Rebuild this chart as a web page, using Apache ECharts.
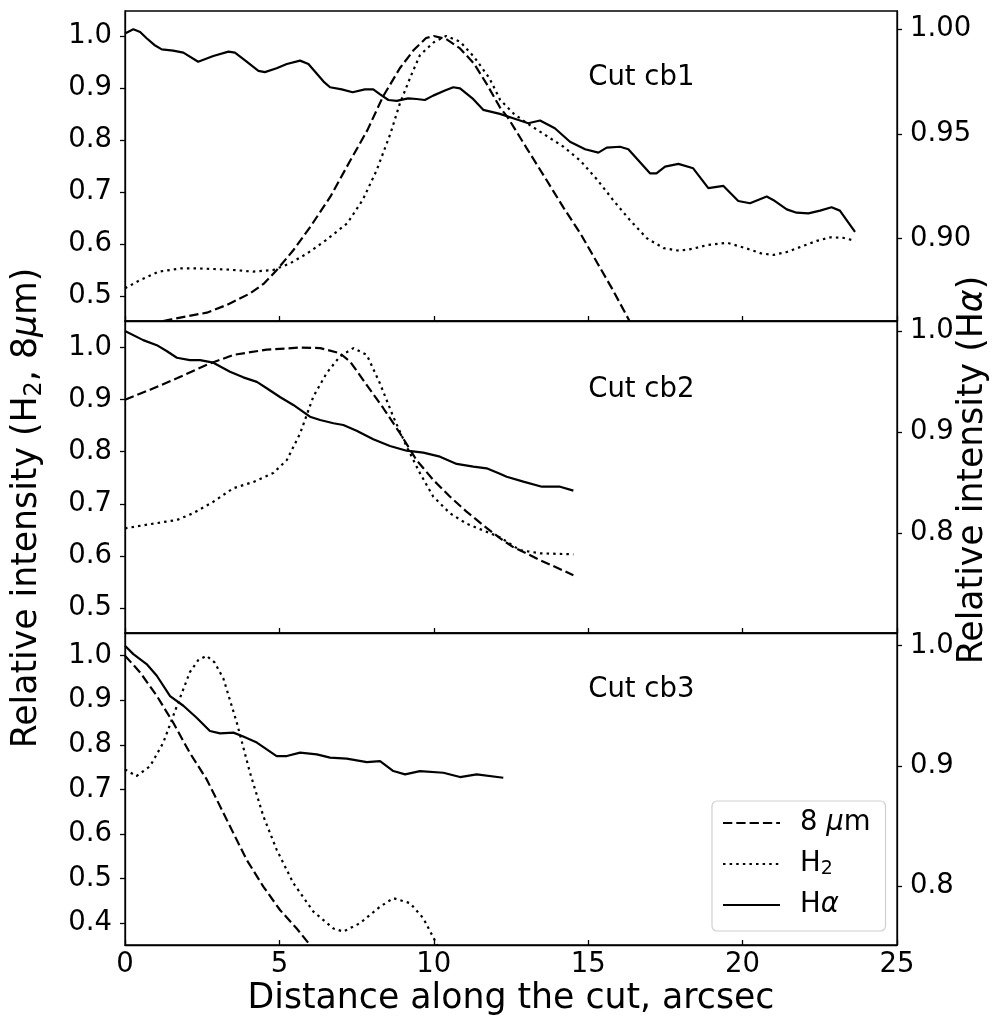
<!DOCTYPE html>
<html>
<head>
<meta charset="utf-8">
<script src="https://cdn.jsdelivr.net/npm/echarts@6/dist/echarts.min.js"></script>
<style>
html,body{margin:0;padding:0;background:#fff;}
#chart{width:994px;height:1017px;}
</style>
</head>
<body>
<div id="chart"></div>
<script>
// ---------- DATA ----------
// Cut cb1
const cb1_x_8um = [0, 0.5, 1.0, 1.5, 2.0, 2.65, 3.3, 4.05, 4.5, 4.9, 5.45, 6.0, 6.65, 7.3, 7.85, 8.35, 8.9, 9.35, 9.75, 10.0, 10.4, 10.85, 11.3, 11.7, 12.15, 12.4, 13.0, 13.65, 14.2, 14.75, 15.3, 15.8, 16.35, 16.8];
const cb1_y_8um = [0.43, 0.44, 0.449, 0.455, 0.461, 0.468, 0.483, 0.505, 0.524, 0.549, 0.588, 0.633, 0.691, 0.761, 0.819, 0.883, 0.938, 0.973, 0.996, 1.0, 0.994, 0.976, 0.947, 0.909, 0.862, 0.843, 0.785, 0.723, 0.67, 0.62, 0.563, 0.5115, 0.4506, 0.40];
const cb1_x_h2 = [0, 0.5, 1.1, 1.8, 2.4, 3.3, 4.15, 4.8, 5.35, 5.9, 6.5, 7.2, 7.7, 8.15, 8.6, 8.9, 9.25, 9.55, 10.0, 10.4, 10.85, 11.3, 11.8, 12.15, 12.6, 13.1, 13.6, 14.2, 14.75, 15.3, 15.8, 16.35, 16.9, 17.45, 17.95, 18.4, 18.85, 19.5, 20.1, 20.6, 21.0, 21.45, 21.9, 22.4, 22.85, 23.25, 23.65];
const cb1_y_h2 = [0.515, 0.531, 0.547, 0.553, 0.553, 0.551, 0.547, 0.550, 0.563, 0.582, 0.607, 0.640, 0.685, 0.742, 0.813, 0.870, 0.922, 0.963, 0.988, 1.0, 0.989, 0.960, 0.919, 0.877, 0.850, 0.829, 0.810, 0.787, 0.760, 0.723, 0.685, 0.646, 0.611, 0.592, 0.587, 0.591, 0.598, 0.6025, 0.592, 0.582, 0.579, 0.585, 0.595, 0.606, 0.613, 0.612, 0.606];
const cb1_x_ha = [0, 0.27, 0.49, 0.70, 0.95, 1.19, 1.56, 1.89, 2.37, 2.86, 3.35, 3.56, 3.94, 4.32, 4.53, 4.91, 5.24, 5.67, 5.94, 6.43, 6.64, 7.02, 7.37, 7.77, 8.04, 8.25, 8.53, 8.80, 9.17, 9.44, 9.71, 9.98, 10.36, 10.63, 10.85, 11.28, 11.60, 12.14, 12.57, 13.06, 13.44, 13.92, 14.41, 14.90, 15.33, 15.60, 16.03, 16.30, 17.00, 17.21, 17.49, 17.92, 18.40, 18.89, 19.38, 19.86, 20.24, 20.78, 20.99, 21.43, 21.75, 22.13, 22.51, 22.88, 23.15, 23.64];
const cb1_y_ha = [0.998, 1.000, 0.9987, 0.9957, 0.9925, 0.9904, 0.9898, 0.9888, 0.9845, 0.9872, 0.9893, 0.9888, 0.9845, 0.9801, 0.9795, 0.9814, 0.9834, 0.9850, 0.9834, 0.9750, 0.9723, 0.9713, 0.9699, 0.9713, 0.9713, 0.9690, 0.9662, 0.9658, 0.9670, 0.9667, 0.9662, 0.9683, 0.9707, 0.9723, 0.9718, 0.9666, 0.9615, 0.9596, 0.9575, 0.9551, 0.9564, 0.9527, 0.9463, 0.9427, 0.9411, 0.9435, 0.9439, 0.9427, 0.9312, 0.9312, 0.9344, 0.9357, 0.9336, 0.9241, 0.9252, 0.9180, 0.9169, 0.9201, 0.9185, 0.9140, 0.9124, 0.9121, 0.9134, 0.9150, 0.9134, 0.9033];
// Cut cb2
const cb2_x_8um = [0, 0.81, 1.68, 2.65, 3.51, 4.59, 5.67, 6.32, 6.96, 7.29, 7.83, 8.36, 8.91, 9.44, 9.98, 10.52, 11.06, 11.60, 12.14, 12.57, 13.44, 14.52];
const cb2_y_8um = [0.900, 0.919, 0.941, 0.967, 0.986, 0.996, 1.000, 0.999, 0.989, 0.973, 0.928, 0.884, 0.835, 0.784, 0.746, 0.714, 0.685, 0.659, 0.634, 0.617, 0.592, 0.563];
const cb2_x_h2 = [0, 0.81, 1.68, 2.21, 2.86, 3.51, 4.16, 4.80, 5.24, 5.67, 6.10, 6.53, 6.96, 7.40, 7.83, 8.25, 8.69, 9.12, 9.55, 9.98, 10.52, 11.06, 11.60, 12.14, 12.79, 13.44, 14.52];
const cb2_y_h2 = [0.653, 0.661, 0.669, 0.682, 0.704, 0.730, 0.742, 0.759, 0.784, 0.835, 0.906, 0.951, 0.983, 0.999, 0.986, 0.932, 0.867, 0.810, 0.759, 0.714, 0.682, 0.662, 0.649, 0.636, 0.611, 0.605, 0.603];
const cb2_x_ha = [0, 0.59, 1.03, 1.36, 1.68, 2.10, 2.43, 2.86, 3.40, 3.83, 4.27, 4.59, 5.03, 5.45, 5.99, 6.32, 6.75, 7.07, 7.50, 8.04, 8.58, 9.12, 9.66, 10.20, 10.74, 11.28, 11.71, 12.14, 12.36, 12.90, 13.50, 14.09, 14.52];
const cb2_y_ha = [1.0, 0.991, 0.986, 0.980, 0.9736, 0.9713, 0.9713, 0.9687, 0.9598, 0.9542, 0.9497, 0.9434, 0.9345, 0.9269, 0.9153, 0.912, 0.9088, 0.9071, 0.9015, 0.893, 0.8864, 0.8817, 0.8798, 0.8758, 0.8686, 0.866, 0.8643, 0.859, 0.856, 0.8511, 0.8461, 0.8461, 0.8422];
// Cut cb3
const cb3_x_8um = [0, 0.49, 1.03, 1.56, 2.10, 2.65, 3.08, 3.51, 3.94, 4.48, 5.02, 5.56, 5.99, 6.2];
const cb3_y_8um = [1.0, 0.9625, 0.91, 0.85, 0.782, 0.722, 0.662, 0.602, 0.542, 0.482, 0.4295, 0.388, 0.351, 0.33];
const cb3_x_h2 = [0, 0.37, 0.81, 1.24, 1.68, 2.10, 2.37, 2.64, 2.90, 3.19, 3.62, 4.05, 4.48, 4.91, 5.45, 6.10, 6.75, 7.07, 7.61, 8.26, 8.69, 9.23, 9.66, 10.09, 10.3];
const cb3_y_h2 = [0.745, 0.730, 0.752, 0.805, 0.887, 0.963, 0.990, 1.0, 0.985, 0.948, 0.850, 0.737, 0.640, 0.565, 0.490, 0.426, 0.388, 0.381, 0.400, 0.437, 0.456, 0.445, 0.411, 0.354, 0.32];
const cb3_x_ha = [0, 0.27, 0.70, 1.03, 1.46, 1.89, 2.32, 2.75, 3.08, 3.51, 3.83, 4.27, 4.91, 5.24, 5.67, 6.21, 6.64, 7.18, 7.83, 8.26, 8.69, 9.07, 9.55, 10.31, 10.85, 11.39, 12.25];
const cb3_y_ha = [1.0, 0.993, 0.9847, 0.975, 0.958, 0.950, 0.940, 0.929, 0.927, 0.9276, 0.9243, 0.9193, 0.9081, 0.9081, 0.911, 0.9095, 0.9068, 0.9059, 0.9031, 0.9039, 0.8956, 0.8928, 0.8956, 0.8942, 0.8906, 0.8928, 0.890];

// Tick labels / axis ranges
const xTicks = [0, 5, 10, 15, 20, 25];
const leftTicks = [[0.5, 0.6, 0.7, 0.8, 0.9, 1.0], [0.5, 0.6, 0.7, 0.8, 0.9, 1.0], [0.4, 0.5, 0.6, 0.7, 0.8, 0.9, 1.0]];
const rightTicks = [[0.90, 0.95, 1.00], [0.8, 0.9, 1.0], [0.8, 0.9, 1.0]];
const rightDecimals = [2, 1, 1];
const leftRange = [[0.452, 1.048], [0.452, 1.051], [0.351, 1.051]];
const rightRange = [[0.8607, 1.0087], [0.7015, 1.0099], [0.7507, 1.0106]];
const cutLabels = ['Cut cb1', 'Cut cb2', 'Cut cb3'];
const cutLabelPos = [15, 0.9];
const seriesNames = ['8 μm', 'H₂', 'Hα'];

// ---------- BUILD ----------
const FONT = 'DejaVu Sans';
const zip = (xs, ys) => xs.map((x, i) => [x, ys[i]]);
const panels = [
  {d8: zip(cb1_x_8um, cb1_y_8um), h2: zip(cb1_x_h2, cb1_y_h2), ha: zip(cb1_x_ha, cb1_y_ha)},
  {d8: zip(cb2_x_8um, cb2_y_8um), h2: zip(cb2_x_h2, cb2_y_h2), ha: zip(cb2_x_ha, cb2_y_ha)},
  {d8: zip(cb3_x_8um, cb3_y_8um), h2: zip(cb3_x_h2, cb3_y_h2), ha: zip(cb3_x_ha, cb3_y_ha)}
];
const tops = [11, 321, 633];
const heights = [310, 312, 312];
const TICKFS = 27.5;
const LABFS = 34.7;

const grid = [], xAxis = [], yAxis = [], series = [];
for (let i = 0; i < 3; i++) {
  grid.push({left: 125, right: 97, top: tops[i], height: heights[i], show: true,
    borderColor: '#000', borderWidth: 1.3, backgroundColor: 'transparent'});
  xAxis.push({
    type: 'value', gridIndex: i, min: 0, max: 25, interval: 5,
    axisLine: {show: true, onZero: false, lineStyle: {color: '#000', width: 1.3}},
    axisTick: {show: true, inside: true, length: 5, lineStyle: {color: '#000', width: 1.3}},
    axisLabel: {show: i === 2, margin: 6, color: '#000', fontFamily: FONT, fontSize: TICKFS},
    splitLine: {show: false},
    name: i === 2 ? 'Distance along the cut, arcsec' : '',
    nameLocation: 'middle', nameGap: 36,
    nameTextStyle: {color: '#000', fontFamily: FONT, fontSize: LABFS}
  });
  yAxis.push({
    type: 'value', gridIndex: i, position: 'left', min: leftRange[i][0], max: leftRange[i][1],
    axisLine: {show: true, onZero: false, lineStyle: {color: '#000', width: 1.3}},
    axisTick: {show: true, inside: false, length: 5, customValues: leftTicks[i], lineStyle: {color: '#000', width: 1.3}},
    axisLabel: {show: true, margin: 13, customValues: leftTicks[i], color: '#000', fontFamily: FONT, fontSize: TICKFS,
      formatter: v => Number(v).toFixed(1)},
    splitLine: {show: false}
  });
  const dec = rightDecimals[i];
  yAxis.push({
    type: 'value', gridIndex: i, position: 'right', min: rightRange[i][0], max: rightRange[i][1],
    axisLine: {show: true, onZero: false, lineStyle: {color: '#000', width: 1.3}},
    axisTick: {show: true, inside: false, length: 5, customValues: rightTicks[i], lineStyle: {color: '#000', width: 1.3}},
    axisLabel: {show: true, margin: 13, customValues: rightTicks[i], color: '#000', fontFamily: FONT, fontSize: TICKFS,
      formatter: v => Number(v).toFixed(dec)},
    splitLine: {show: false}
  });
  const p = panels[i];
  const common = {type: 'line', xAxisIndex: i, showSymbol: false, symbol: 'none', clip: true,
    silent: true, animation: false, color: '#000'};
  series.push(Object.assign({}, common, {name: seriesNames[0], yAxisIndex: 2 * i, data: p.d8,
    lineStyle: {color: '#000', width: 2.2, type: [9.3, 4]}}));
  series.push(Object.assign({}, common, {name: seriesNames[1], yAxisIndex: 2 * i, data: p.h2,
    lineStyle: {color: '#000', width: 2.2, type: [2.5, 4.1]}}));
  series.push(Object.assign({}, common, {name: seriesNames[2], yAxisIndex: 2 * i + 1, data: p.ha,
    lineStyle: {color: '#000', width: 2.2, type: 'solid'}}));
}

const chart = echarts.init(document.getElementById('chart'), null, {renderer: 'canvas'});
const baseGraphic = [
  {type: 'text', x: 27, y: 508, rotation: Math.PI / 2, silent: true,
    style: {text: 'Relative intensity (H{sub|2}, 8{i|μ}m)', fill: '#000', fontFamily: FONT, fontSize: LABFS,
      align: 'center', verticalAlign: 'middle', textAlign: 'center', textVerticalAlign: 'middle', lineHeight: 40,
      rich: {sub: {fontSize: 24, lineHeight: 18, verticalAlign: 'bottom', fontFamily: FONT, fill: '#000'},
             i: {fontStyle: 'italic', fontFamily: FONT, fontSize: LABFS, fill: '#000'}}}},
  {type: 'text', x: 973, y: 470, rotation: Math.PI / 2, silent: true,
    style: {text: 'Relative intensity (H{i|α})', fill: '#000', fontFamily: FONT, fontSize: LABFS,
      align: 'center', verticalAlign: 'middle', textAlign: 'center', textVerticalAlign: 'middle', lineHeight: 40,
      rich: {i: {fontStyle: 'italic', fontFamily: FONT, fontSize: LABFS, fill: '#000'}}}}
];
chart.setOption({
  animation: false,
  backgroundColor: '#fff',
  grid, xAxis, yAxis, series,
  legend: {
    data: seriesNames, orient: 'vertical', left: 712, top: 801,
    padding: [7, 15, 11, 10], itemGap: 11, itemWidth: 57, itemHeight: 14,
    backgroundColor: '#fff', borderColor: '#d0d0d0', borderWidth: 1.2, borderRadius: 5,
    selectedMode: false,
    itemStyle: {opacity: 0, borderWidth: 0},
    textStyle: {color: '#000', fontFamily: FONT, fontSize: TICKFS, lineHeight: 30, padding: [0, 0, 0, 15],
      rich: {
        sub: {fontSize: 19, lineHeight: 14, verticalAlign: 'bottom', fontFamily: FONT, color: '#000', padding: 0},
        i: {fontStyle: 'italic', fontFamily: FONT, fontSize: TICKFS, color: '#000', padding: 0}
      }},
    formatter: name => {
      if (name === seriesNames[0]) return '8 {i|μ}m';
      if (name === seriesNames[1]) return 'H{sub|2}';
      return 'H{i|α}';
    }
  },
  graphic: baseGraphic
});
// "Cut cbN" annotations placed at data coordinates through the axes' own scales
const cutGraphic = cutLabels.map((t, i) => {
  const pt = chart.convertToPixel({xAxisIndex: i, yAxisIndex: 2 * i}, cutLabelPos);
  return {type: 'text', x: pt[0], y: pt[1] - 10, silent: true,
    style: {text: t, fill: '#000', fontFamily: FONT, fontSize: TICKFS,
      align: 'left', verticalAlign: 'middle', textAlign: 'left', textVerticalAlign: 'middle'}};
});
chart.setOption({graphic: baseGraphic.concat(cutGraphic)});
</script>
</body>
</html>
